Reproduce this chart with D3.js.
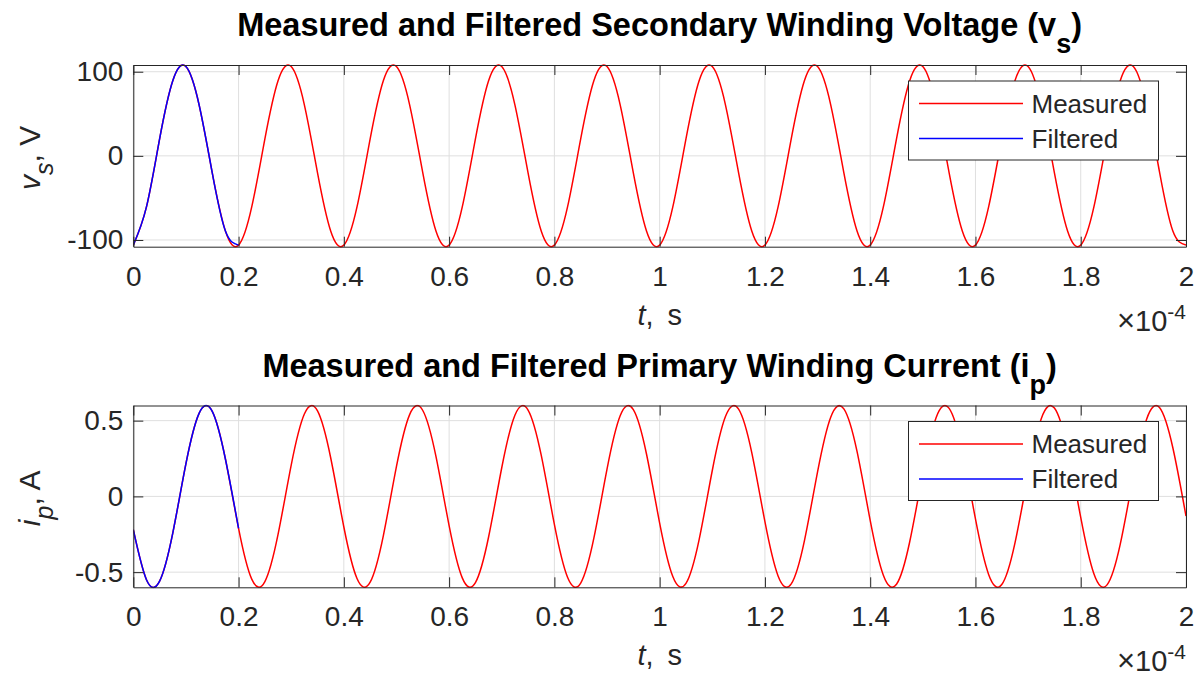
<!DOCTYPE html>
<html>
<head>
<meta charset="utf-8">
<script src="https://cdn.jsdelivr.net/npm/d3@7"></script>
<style>
  body { margin: 0; background: #fff; }
  svg { display: block; }
  text { font-family: "Liberation Sans", Arial, Helvetica, sans-serif; fill: #262626; }
</style>
</head>
<body>
<svg id="fig" width="1199" height="677"></svg>
<script>
// Sample times, in units of 1e-4 s
const timeE4 = [
  0, 0.025, 0.05, 0.075, 0.1, 0.125, 0.15, 0.175,
  0.2, 0.225, 0.25, 0.275, 0.3, 0.325, 0.35, 0.375,
  0.4, 0.425, 0.45, 0.475, 0.5, 0.525, 0.55, 0.575,
  0.6, 0.625, 0.65, 0.675, 0.7, 0.725, 0.75, 0.775,
  0.8, 0.825, 0.85, 0.875, 0.9, 0.925, 0.95, 0.975,
  1.0, 1.025, 1.05, 1.075, 1.1, 1.125, 1.15, 1.175,
  1.2, 1.225, 1.25, 1.275, 1.3, 1.325, 1.35, 1.375,
  1.4, 1.425, 1.45, 1.475, 1.5, 1.525, 1.55, 1.575,
  1.6, 1.625, 1.65, 1.675, 1.7, 1.725, 1.75, 1.775,
  1.8, 1.825, 1.85, 1.875, 1.9, 1.925, 1.95, 1.975,
  2.0
];

// Secondary winding voltage v_s (V)
const vsMeasured = [
  -106.1, -60.7, 20.2, 89.3, 106.1, 60.7, -20.2, -89.3,
  -106.1, -60.7, 20.2, 89.3, 106.1, 60.7, -20.2, -89.3,
  -106.1, -60.7, 20.2, 89.3, 106.1, 60.7, -20.2, -89.3,
  -106.1, -60.7, 20.2, 89.3, 106.1, 60.7, -20.2, -89.3,
  -106.1, -60.7, 20.2, 89.3, 106.1, 60.7, -20.2, -89.3,
  -106.1, -60.7, 20.2, 89.3, 106.1, 60.7, -20.2, -89.3,
  -106.1, -60.7, 20.2, 89.3, 106.1, 60.7, -20.2, -89.3,
  -106.1, -60.7, 20.2, 89.3, 106.1, 60.7, -20.2, -89.3,
  -106.1, -60.7, 20.2, 89.3, 106.1, 60.7, -20.2, -89.3,
  -106.1, -60.7, 20.2, 89.3, 106.1, 60.7, -20.2, -89.3,
  -106.1
];
const vsFiltered = [-106.1, -60.7, 20.2, 89.3, 106.1, 60.7, -20.2, -89.3, -106.1];

// Primary winding current i_p (A)
const ipMeasured = [
  -0.220, -0.550, -0.559, -0.242, 0.216, 0.548, 0.561, 0.247,
  -0.211, -0.546, -0.562, -0.251, 0.207, 0.544, 0.564, 0.255,
  -0.202, -0.542, -0.566, -0.260, 0.198, 0.540, 0.567, 0.264,
  -0.193, -0.538, -0.569, -0.268, 0.189, 0.536, 0.570, 0.272,
  -0.185, -0.534, -0.572, -0.276, 0.180, 0.532, 0.573, 0.280,
  -0.176, -0.529, -0.574, -0.285, 0.171, 0.527, 0.576, 0.289,
  -0.167, -0.525, -0.577, -0.293, 0.162, 0.523, 0.578, 0.297,
  -0.158, -0.520, -0.580, -0.301, 0.153, 0.518, 0.581, 0.305,
  -0.149, -0.515, -0.582, -0.309, 0.144, 0.513, 0.583, 0.313,
  -0.139, -0.511, -0.584, -0.317, 0.135, 0.508, 0.585, 0.321,
  -0.130
];
const ipFiltered = [-0.220, -0.550, -0.559, -0.242, 0.216, 0.548, 0.561, 0.247, -0.211];

// Axis ticks and labels
const xTicks = [0, 0.2, 0.4, 0.6, 0.8, 1, 1.2, 1.4, 1.6, 1.8, 2];
const xTickLabels = ["0", "0.2", "0.4", "0.6", "0.8", "1", "1.2", "1.4", "1.6", "1.8", "2"];
const vsTicks = [-100, 0, 100];
const vsTickLabels = ["-100", "0", "100"];
const ipTicks = [-0.5, 0, 0.5];
const ipTickLabels = ["-0.5", "0", "0.5"];

const seriesNames = ["Measured", "Filtered"];
const seriesColors = ["#ff0000", "#0000ff"];

const svg = d3.select("#fig");
const AX = "#262626";
const left = 133.3, right = 1186;

const panels = [
  {
    top: 65, bottom: 246.7, yDomain: [-108, 108],
    yTicks: vsTicks, yTickLabels: vsTickLabels,
    measured: vsMeasured, filtered: vsFiltered,
    title: ["Measured and Filtered Secondary Winding Voltage (v", "s", ")"],
    ylab: ["v", "s", ", V"]
  },
  {
    top: 405.5, bottom: 587.3, yDomain: [-0.6, 0.6],
    yTicks: ipTicks, yTickLabels: ipTickLabels,
    measured: ipMeasured, filtered: ipFiltered,
    title: ["Measured and Filtered Primary Winding Current (i", "p", ")"],
    ylab: ["i", "p", ", A"]
  }
];

panels.forEach((p, pi) => {
  const g = svg.append("g");
  const x = d3.scaleLinear().domain([0, 2]).range([left, right]);
  const y = d3.scaleLinear().domain(p.yDomain).range([p.bottom, p.top]);
  const cx = (left + right) / 2, cy = (p.top + p.bottom) / 2;

  // background
  g.append("rect").attr("x", left).attr("y", p.top)
    .attr("width", right - left).attr("height", p.bottom - p.top).attr("fill", "#fff");

  // grid
  g.append("g").selectAll("line").data(xTicks).join("line")
    .attr("x1", d => x(d)).attr("x2", d => x(d))
    .attr("y1", p.top).attr("y2", p.bottom)
    .attr("stroke", "#dfdfdf").attr("stroke-width", 1);
  g.append("g").selectAll("line").data(p.yTicks).join("line")
    .attr("x1", left).attr("x2", right)
    .attr("y1", d => y(d)).attr("y2", d => y(d))
    .attr("stroke", "#dfdfdf").attr("stroke-width", 1);

  // traces
  const clipId = "clip" + pi;
  svg.append("clipPath").attr("id", clipId).append("rect")
    .attr("x", left).attr("y", p.top - 1)
    .attr("width", right - left).attr("height", p.bottom - p.top + 2);
  const line = d3.line().x((d, i) => x(timeE4[i])).y(d => y(d)).curve(d3.curveNatural);
  const traces = g.append("g").attr("clip-path", `url(#${clipId})`);
  traces.append("path").attr("d", line(p.measured))
    .attr("fill", "none").attr("stroke", seriesColors[0]).attr("stroke-width", 1.5);
  traces.append("path").attr("d", line(p.filtered))
    .attr("fill", "none").attr("stroke", seriesColors[1]).attr("stroke-width", 1.5);

  // axes (ticks pointing inward)
  const styleAxis = sel => {
    sel.select(".domain").attr("stroke", AX);
    sel.selectAll(".tick line").attr("stroke", AX);
    sel.selectAll(".tick text").attr("fill", AX).style("font-size", "28px")
      .style("font-family", '"Liberation Sans", Arial, sans-serif');
  };
  g.append("g").attr("transform", `translate(0,${p.bottom})`)
    .call(d3.axisBottom(x).tickValues(xTicks).tickSizeInner(-10).tickSizeOuter(0)
      .tickPadding(19).tickFormat((d, i) => xTickLabels[i]))
    .call(styleAxis);
  g.append("g").attr("transform", `translate(0,${p.top})`)
    .call(d3.axisTop(x).tickValues(xTicks).tickSizeInner(-10).tickSizeOuter(0).tickFormat(""))
    .call(styleAxis);
  g.append("g").attr("transform", `translate(${left},0)`)
    .call(d3.axisLeft(y).tickValues(p.yTicks).tickSizeInner(-10).tickSizeOuter(0)
      .tickPadding(10).tickFormat((d, i) => p.yTickLabels[i]))
    .call(styleAxis);
  g.append("g").attr("transform", `translate(${right},0)`)
    .call(d3.axisRight(y).tickValues(p.yTicks).tickSizeInner(-10).tickSizeOuter(0).tickFormat(""))
    .call(styleAxis);
  g.selectAll(".tick text").filter(function () { return this.textContent === ""; }).remove();

  // title
  const t = g.append("text").attr("x", cx).attr("y", p.top - 29)
    .attr("text-anchor", "middle").style("font-size", "32.5px").style("font-weight", "bold")
    .attr("fill", "#000");
  t.append("tspan").text(p.title[0]).attr("fill", "#000");
  t.append("tspan").text(p.title[1]).attr("dy", 17).style("font-size", "27px").attr("fill", "#000");
  t.append("tspan").text(p.title[2]).attr("dy", -17).attr("fill", "#000");

  // x label
  const xl = g.append("text").attr("x", cx).attr("y", p.bottom + 78)
    .attr("text-anchor", "middle").style("font-size", "29px");
  xl.append("tspan").text("t").style("font-style", "italic");
  xl.append("tspan").text(",\u2009 s");

  // x exponent
  const ex = g.append("text").attr("x", right).attr("y", p.bottom + 84)
    .attr("text-anchor", "end").style("font-size", "29px");
  ex.append("tspan").text("\u00d7").style("font-size", "31px").style("font-weight", "300");
  ex.append("tspan").text("10");
  ex.append("tspan").text("-4").attr("dy", -12).style("font-size", "21px");

  // y label
  const yl = g.append("text").attr("transform", `translate(40,${cy + 2}) rotate(-90)`)
    .attr("text-anchor", "middle").style("font-size", "30px");
  yl.append("tspan").text(p.ylab[0]).style("font-style", "italic");
  yl.append("tspan").text(p.ylab[1]).style("font-style", "italic").attr("dy", 13).style("font-size", "25px");
  yl.append("tspan").text(p.ylab[2]).attr("dy", -13);

  // legend
  const lg = g.append("g").attr("transform", `translate(908.5,${p.top + 16})`);
  lg.append("rect").attr("width", 250).attr("height", 79)
    .attr("fill", "#fff").attr("stroke", AX).attr("stroke-width", 1);
  seriesNames.forEach((name, i) => {
    const yy = 22.5 + i * 35;
    lg.append("line").attr("x1", 10.5).attr("x2", 114.5).attr("y1", yy).attr("y2", yy)
      .attr("stroke", seriesColors[i]).attr("stroke-width", 1.5);
    lg.append("text").attr("x", 123).attr("y", yy).attr("dy", "0.35em")
      .style("font-size", "26px").text(name);
  });
});
</script>
</body>
</html>
